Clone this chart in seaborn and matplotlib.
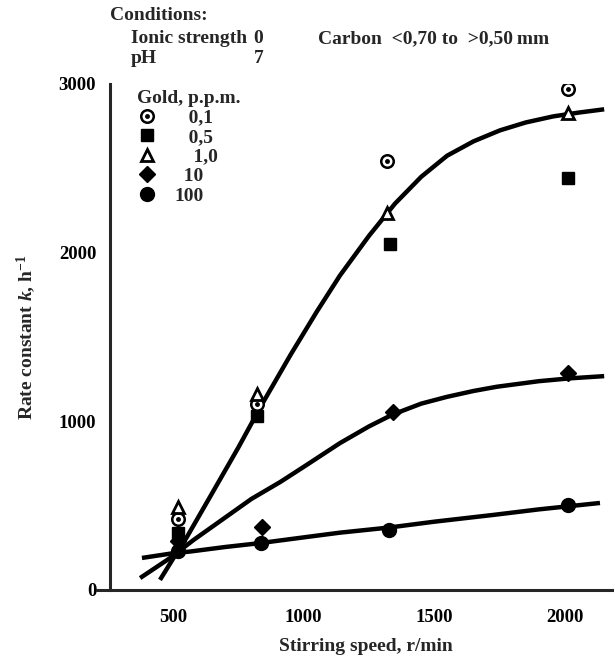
import seaborn as sns
import matplotlib.pyplot as plt
from matplotlib.legend_handler import HandlerTuple

# Точки (скорость перемешивания, r/min; константа скорости k, 1/h)
speed_01 = [520, 820, 1320, 2010]
k_01 = [420, 1100, 2545, 2970]
speed_05 = [520, 820, 1330, 2010]
k_05 = [340, 1030, 2050, 2445]
speed_10 = [520, 820, 1320, 2010]
k_10 = [490, 1165, 2235, 2830]
speed_10ppm = [520, 840, 1340, 2010]
k_10ppm = [290, 375, 1055, 1285]
speed_100 = [520, 835, 1325, 2010]
k_100 = [230, 280, 355, 505]

# Проведённые от руки кривые
curve_a_x = [450, 500, 553, 650, 750, 840, 950, 1050, 1139, 1250, 1349, 1450,
             1549, 1650, 1751, 1850, 1955, 2050, 2150]
curve_a_y = [60, 185, 314, 575, 845, 1100, 1395, 1650, 1865, 2100, 2290, 2450,
             2575, 2660, 2725, 2772, 2808, 2830, 2850]
curve_b_x = [374, 489, 578, 700, 800, 910, 1000, 1139, 1250, 1340, 1450, 1548,
             1650, 1739, 1900, 2020, 2150]
curve_b_y = [71, 190, 296, 430, 540, 640, 730, 871, 970, 1040, 1105, 1145,
             1180, 1205, 1238, 1255, 1268]
curve_c_x = [381, 500, 565, 700, 833, 1000, 1139, 1325, 1500, 1725, 1900, 2134]
curve_c_y = [190, 218, 228, 255, 278, 312, 340, 370, 405, 445, 478, 516]

legend_labels = ['   0,1', '   0,5', '    1,0', '  10', '100']

sns.set_style('white')
plt.rcParams['font.family'] = ['Liberation Serif', 'DejaVu Serif']
plt.rcParams['font.weight'] = 'bold'
plt.rcParams['axes.labelweight'] = 'bold'
plt.rcParams['mathtext.fontset'] = 'custom'
plt.rcParams['mathtext.rm'] = 'Liberation Serif:bold'
plt.rcParams['mathtext.it'] = 'Liberation Serif:italic:bold'
FS = 14

fig = plt.figure(figsize=(6.15, 6.65), dpi=100)
ax = fig.add_axes([97 / 615, 75 / 665, 515 / 615, 506 / 665])

# Кривые
for cx, cy in [(curve_a_x, curve_a_y), (curve_b_x, curve_b_y), (curve_c_x, curve_c_y)]:
    sns.lineplot(x=cx, y=cy, ax=ax, color='black', lw=3.2, sort=False,
                 estimator=None, solid_capstyle='butt')

# Маркеры
ring, = ax.plot(speed_01, k_01, ls='none', marker='o', ms=9, mfc='white',
                mec='black', mew=1.8, zorder=5)
dot, = ax.plot(speed_01, k_01, ls='none', marker='o', ms=2.5, color='black', zorder=6)
sq, = ax.plot(speed_05, k_05, ls='none', marker='s', ms=8.5, color='black', zorder=5)
tri, = ax.plot(speed_10, k_10, ls='none', marker='^', ms=9, mfc='white',
               mec='black', mew=2, zorder=5)
dia, = ax.plot(speed_10ppm, k_10ppm, ls='none', marker='D', ms=8.5, color='black', zorder=5)
circ, = ax.plot(speed_100, k_100, ls='none', marker='o', ms=10, color='black', zorder=5)

leg = ax.legend([(ring, dot), sq, tri, dia, circ], legend_labels,
                handler_map={tuple: HandlerTuple(ndivide=1, pad=0)},
                title='Gold, p.p.m.', frameon=False, loc='upper left',
                bbox_to_anchor=(137 / 615, 1 - 90 / 665), bbox_transform=fig.transFigure,
                fontsize=FS, title_fontsize=FS, handlelength=1.0, handletextpad=0.9,
                labelspacing=0.1, alignment='left', borderpad=0, borderaxespad=0)

ax.set_xlim(209, 2180)
ax.set_ylim(0, 3000)
ax.set_xticks([500, 1000, 1500, 2000])
ax.set_yticks([0, 1000, 2000, 3000])
sns.despine(ax=ax)
ax.spines['left'].set_position(('data', 259))
for s in ['left', 'bottom']:
    ax.spines[s].set_linewidth(2.2)
ax.tick_params(axis='both', direction='out', width=2.2, length=9,
               labelsize=13.5, colors='black')
ax.tick_params(axis='x', pad=5)
ax.tick_params(axis='y', pad=1)

ax.set_xlabel('Stirring speed, r/min', fontsize=FS)
ax.xaxis.set_label_coords((366 - 97) / 515, (590 - 638) / 506)
ax.set_ylabel(r'Rate constant $k$, h$^{-1}$', fontsize=FS, labelpad=15)

# Подписи условий опыта
fig.text(110 / 615, 1 - 20 / 665, 'Conditions:', fontsize=FS)
fig.text(131 / 615, 1 - 43 / 665, 'Ionic strength', fontsize=FS)
fig.text(253 / 615, 1 - 43 / 665, '0', fontsize=FS)
fig.text(131 / 615, 1 - 63 / 665, 'pH', fontsize=FS)
fig.text(254 / 615, 1 - 63 / 665, '7', fontsize=FS)
fig.text(318 / 615, 1 - 43 / 665, 'Carbon  <0,70 to  >0,50\u2009mm', fontsize=FS)

fig.savefig('out.png', dpi=100)
